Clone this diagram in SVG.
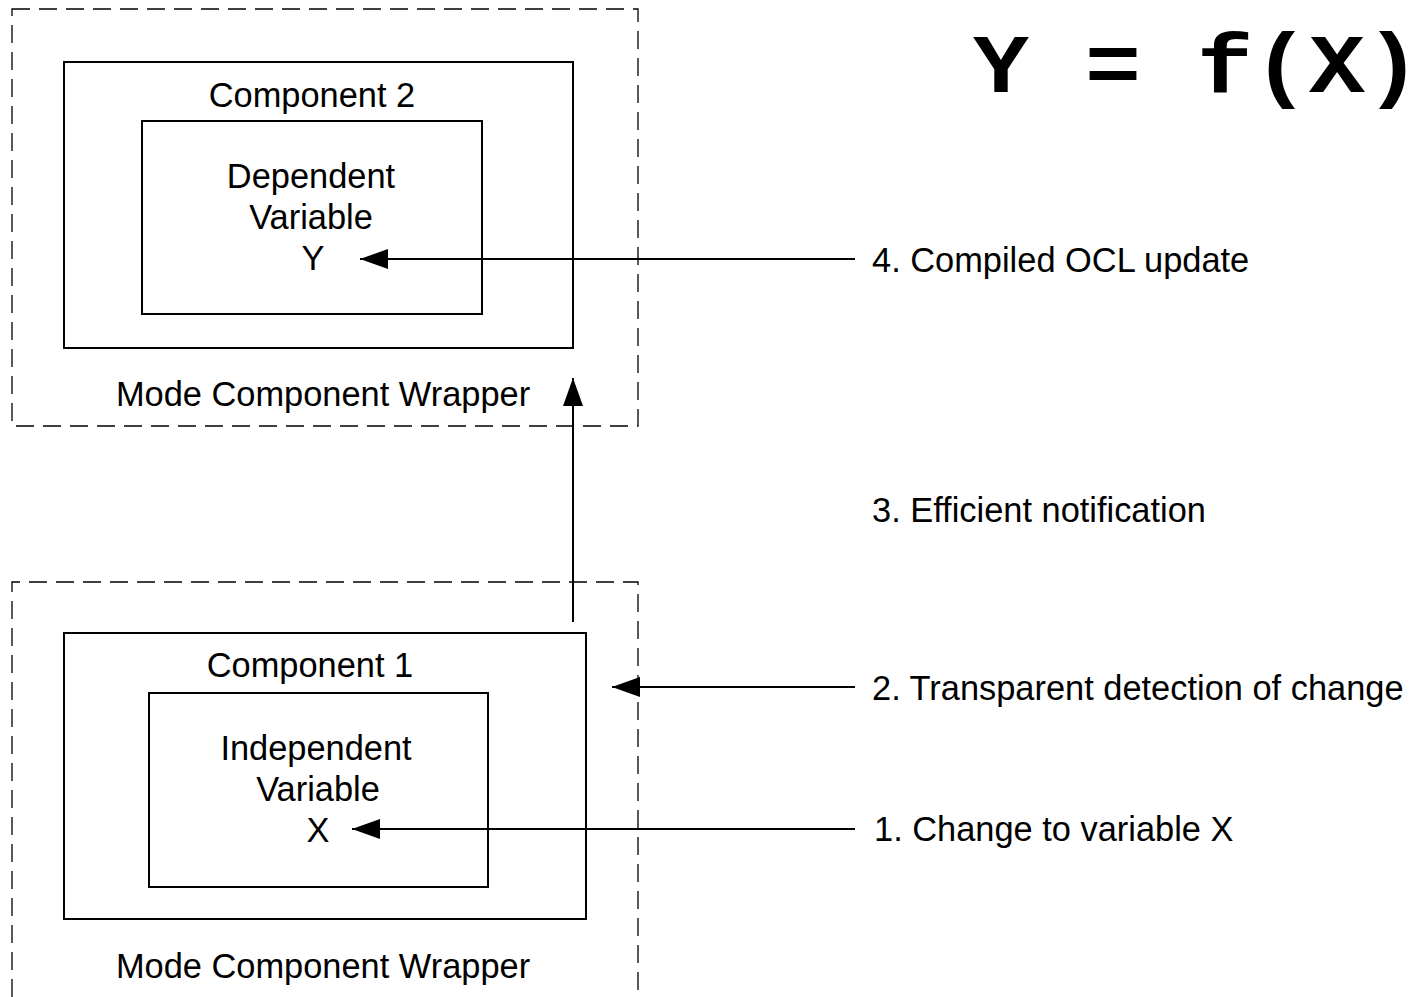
<svg xmlns="http://www.w3.org/2000/svg" width="1420" height="997" viewBox="0 0 1420 997">
<style>
.wrap{fill:none;stroke:#000;stroke-width:1.3;stroke-dasharray:18 9}
.box{fill:none;stroke:#000;stroke-width:2}
.t{font-family:"Liberation Sans",Arial,sans-serif;font-size:34.4px;fill:#000}
.m{text-anchor:middle}
.conn{stroke:#000;stroke-width:2;fill:none}
</style>
<defs>
<marker id="ah" viewBox="0 0 28 20" refX="28" refY="10" markerWidth="28" markerHeight="20" markerUnits="userSpaceOnUse" orient="auto">
<path d="M0,0 L28,10 L0,20 Z" fill="#000"/>
</marker>
</defs>
<rect width="1420" height="997" fill="#fff"/>
<g id="wrapper2">
<rect class="wrap" x="12" y="9" width="626" height="417"/>
<text class="t m" x="323" y="406">Mode Component Wrapper</text>
</g>
<g id="component2">
<rect class="box" x="64" y="62" width="509" height="286"/>
<text class="t m" x="312" y="107">Component 2</text>
</g>
<g id="dependent">
<rect class="box" x="142" y="121" width="340" height="193"/>
<text class="t m" x="311" y="188">Dependent</text>
<text class="t m" x="311" y="229">Variable</text>
<text class="t m" x="313" y="270">Y</text>
</g>
<g id="wrapper1">
<path class="wrap" d="M12,997 L12,582 L638,582 L638,997"/>
<text class="t m" x="323" y="978">Mode Component Wrapper</text>
</g>
<g id="component1">
<rect class="box" x="64" y="633" width="522" height="286"/>
<text class="t m" x="310" y="677">Component 1</text>
</g>
<g id="independent">
<rect class="box" x="149" y="693" width="339" height="194"/>
<text class="t m" x="316" y="760">Independent</text>
<text class="t m" x="318" y="801">Variable</text>
<text class="t m" x="318" y="842">X</text>
</g>
<g id="formula">
<text x="973" y="92" textLength="448" lengthAdjust="spacingAndGlyphs" style="font-family:'Liberation Mono','Courier New',monospace;font-weight:bold;font-size:84px">Y = f(X)</text>
</g>
<g id="labels">
<text class="t" x="872" y="272">4. Compiled OCL update</text>
<text class="t" x="872" y="522">3. Efficient notification</text>
<text class="t" x="872" y="700">2. Transparent detection of change</text>
<text class="t" x="874" y="841">1. Change to variable X</text>
</g>
<g id="connectors">
<line class="conn" x1="855" y1="259" x2="360" y2="259" marker-end="url(#ah)"/>
<line class="conn" x1="573" y1="622" x2="573" y2="378" marker-end="url(#ah)"/>
<line class="conn" x1="855" y1="687" x2="612" y2="687" marker-end="url(#ah)"/>
<line class="conn" x1="855" y1="829" x2="352" y2="829" marker-end="url(#ah)"/>
</g>
</svg>
